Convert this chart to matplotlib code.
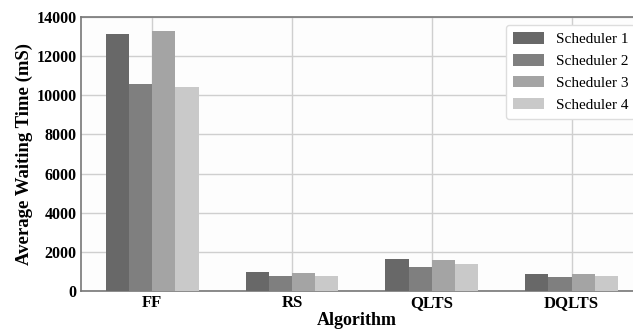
import numpy as np
import matplotlib
matplotlib.use('Agg')
import matplotlib.pyplot as plt

algorithms = ['FF', 'RS', 'QLTS', 'DQLTS']
schedulers = ['Scheduler 1', 'Scheduler 2', 'Scheduler 3', 'Scheduler 4']
sched1 = [13150, 940, 1620, 880]
sched2 = [10600, 780, 1230, 720]
sched3 = [13300, 930, 1580, 880]
sched4 = [10400, 780, 1350, 740]
colors = ['#686868', '#7f7f7f', '#a4a4a4', '#c9c9c9']


def main():
    plt.rcParams['font.family'] = ['Liberation Serif', 'DejaVu Serif']

    fig = plt.figure(figsize=(6.33, 3.29), dpi=100)
    fig.patch.set_facecolor('white')
    ax = fig.add_axes([0.128, 0.116, 0.872, 0.832])
    ax.set_facecolor('#fdfdfd')

    x = np.arange(len(algorithms))
    w = 0.166
    series = [sched1, sched2, sched3, sched4]
    for i, (vals, name) in enumerate(zip(series, schedulers)):
        ax.bar(x + (i - 1.5) * w, vals, w, color=colors[i], label=name, zorder=3)

    ax.set_xlim(-0.51, 3.44)
    ax.set_ylim(0, 14000)
    ax.set_yticks(range(0, 14001, 2000))
    ax.set_xticks(x)
    ax.set_xticklabels(algorithms, fontweight='bold', fontsize=12)
    for lbl in ax.get_yticklabels():
        lbl.set_fontweight('bold')
        lbl.set_fontsize(11.5)
    ax.tick_params(length=0, pad=3)
    ax.set_xlabel('Algorithm', fontweight='bold', fontsize=13, labelpad=1)
    ax.set_ylabel('Average Waiting Time (mS)', fontweight='bold', fontsize=13.5, labelpad=3)

    ax.grid(True, color='#cfcfcf', linewidth=1, zorder=0)
    for side in ['left', 'bottom', 'top']:
        ax.spines[side].set_color('#777777')
        ax.spines[side].set_linewidth(1.2)
    ax.spines['right'].set_visible(False)

    leg = ax.legend(loc='upper right', bbox_to_anchor=(1.004, 0.97), borderaxespad=0,
                    fontsize=11, frameon=True, fancybox=True, handlelength=2.0,
                    handleheight=0.8, handletextpad=0.8, labelspacing=0.5, borderpad=0.45)
    leg.get_frame().set_edgecolor('#dddddd')
    leg.get_frame().set_facecolor('white')
    leg.get_frame().set_alpha(1)

    fig.savefig('out.png', dpi=100)


if __name__ == '__main__':
    main()
